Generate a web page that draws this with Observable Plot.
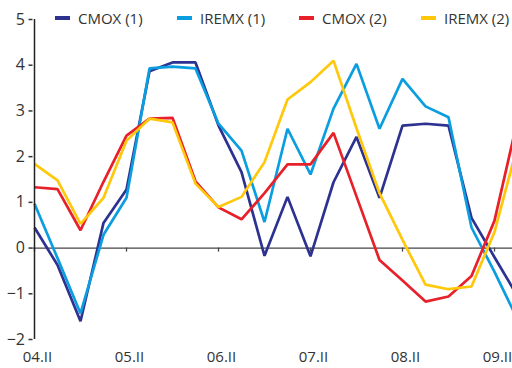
<!DOCTYPE html>
<html><head><meta charset="utf-8">
<script src="https://cdn.jsdelivr.net/npm/d3@7"></script>
<script src="https://cdn.jsdelivr.net/npm/@observablehq/plot@0.6"></script>
<style>
html,body{margin:0;padding:0;background:#fff;}
#wrap{position:relative;width:512px;height:368px;overflow:hidden;font-family:"Open Sans",sans-serif;}
#legend{position:absolute;left:55px;top:7px;display:flex;font-size:15px;line-height:22px;color:#333;}
.item{display:flex;align-items:center;width:122px;white-space:nowrap;}
.sw{width:15px;height:4px;margin-right:8px;flex:none;}
</style></head>
<body><div id="wrap"><div id="chart"></div><div id="legend"></div></div>
<script>
const quarters = ["04.II","04.III","04.IV","05.I","05.II","05.III","05.IV","06.I","06.II","06.III","06.IV","07.I","07.II","07.III","07.IV","08.I","08.II","08.III","08.IV","09.I","09.II","09.III"];
const cmox1  = [0.45,-0.37,-1.6,0.55,1.28,3.87,4.06,4.06,2.68,1.66,-0.17,1.12,-0.18,1.44,2.43,1.1,2.68,2.72,2.68,0.66,-0.2,-1.05];
const iremx1 = [0.97,-0.22,-1.43,0.29,1.1,3.93,3.97,3.93,2.72,2.13,0.57,2.61,1.61,3.05,4.03,2.61,3.7,3.1,2.86,0.45,-0.52,-1.56];
const cmox2  = [1.33,1.29,0.39,1.45,2.46,2.83,2.85,1.46,0.89,0.63,1.2,1.83,1.83,2.52,1.13,-0.26,-0.71,-1.17,-1.06,-0.61,0.6,2.8];
const iremx2 = [1.84,1.48,0.53,1.1,2.35,2.83,2.75,1.41,0.9,1.12,1.88,3.25,3.63,4.1,2.62,1.2,0.18,-0.8,-0.9,-0.84,0.35,2.24];
const seriesNames = ["CMOX (1)","IREMX (1)","CMOX (2)","IREMX (2)"];
const seriesColors = ["#2d3290","#0a9ee0","#e8202a","#ffc80a"];
const yTicks = [-2,-1,0,1,2,3,4,5];
const xTicks = quarters.filter(q => /\.II$/.test(q));

const seriesValues = [cmox1, iremx1, cmox2, iremx2];
const rows = seriesNames.flatMap((name, s) => quarters.map((q, i) => ({series: name, quarter: q, value: seriesValues[s][i]})));

const chart = Plot.plot({
  width: 512, height: 368,
  marginLeft: 32.5, marginRight: 0, marginTop: 19, marginBottom: 29,
  style: {fontFamily: "'Open Sans', sans-serif", fontSize: "16px", color: "#333", background: "#fff", overflow: "hidden"},
  x: {type: "point", domain: quarters, padding: 0, range: [32.5, 32.5 + 21 * 23.1]},
  y: {domain: [-2, 5]},
  color: {domain: seriesNames, range: seriesColors},
  marks: [
    Plot.ruleY([0], {stroke: "#444", strokeWidth: 1.3}),
    Plot.ruleX(xTicks, {x: d => d, y1: 0, y2: 0, insetBottom: -4, stroke: "#444", strokeWidth: 1.3}),
    Plot.line(rows, {x: "quarter", y: "value", z: "series", stroke: "series", strokeWidth: 2.7, strokeLinejoin: "miter", strokeLinecap: "butt"}),
    Plot.ruleX([quarters[0]], {stroke: "#222", strokeWidth: 1.5}),
    Plot.axisY(yTicks, {tickSize: 4, tickPadding: 4, color: "#333", strokeWidth: 1.5, label: null}),
    Plot.axisX(xTicks, {tickSize: 0, tickPadding: 12, dx: 3, fontSize: 15, color: "#333", label: null})
  ]
});
document.getElementById("chart").appendChild(chart);

const legend = document.getElementById("legend");
seriesNames.forEach((name, i) => {
  const item = document.createElement("div");
  item.className = "item";
  const sw = document.createElement("span");
  sw.className = "sw";
  sw.style.background = seriesColors[i];
  const label = document.createElement("span");
  label.textContent = name;
  item.appendChild(sw);
  item.appendChild(label);
  legend.appendChild(item);
});
</script>
</body></html>
